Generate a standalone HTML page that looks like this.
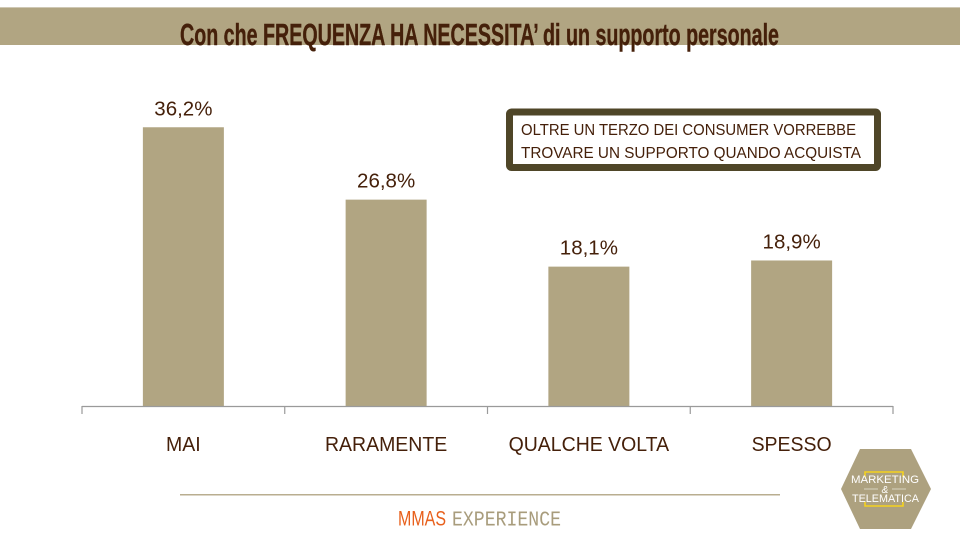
<!DOCTYPE html>
<html lang="it">
<head>
<meta charset="utf-8">
<title>Con che FREQUENZA HA NECESSITA' di un supporto personale</title>
<style>
html,body{margin:0;padding:0;background:#fff;}
body{width:960px;height:540px;overflow:hidden;}
svg{display:block;font-family:"Liberation Sans",sans-serif;}
</style>
</head>
<body>
<svg id="slide" width="960" height="540" viewBox="0 0 960 540" xmlns="http://www.w3.org/2000/svg">
  <rect x="0" y="7" width="960" height="38" fill="#b1a582"/>
  <rect x="0" y="7" width="960" height="1" fill="#cfc8b4"/>
  <text x="180" y="45" textLength="599" lengthAdjust="spacingAndGlyphs" font-size="30.500" font-weight="700" fill="#45200a" stroke="#45200a" stroke-width="0.400">Con che FREQUENZA HA NECESSITA’ di un supporto personale</text>

  <g id="chart"></g>

  <g>
    <rect x="509.500" y="112" width="368" height="55.500" rx="2" fill="#fff" stroke="#4f4628" stroke-width="7"/>
    <text x="521" y="135" textLength="335" lengthAdjust="spacingAndGlyphs" font-size="15.500" fill="#45200a">OLTRE UN TERZO DEI CONSUMER VORREBBE</text>
    <text x="521" y="158" textLength="340" lengthAdjust="spacingAndGlyphs" font-size="15.500" fill="#45200a">TROVARE UN SUPPORTO QUANDO ACQUISTA</text>
  </g>

  <rect x="180" y="494" width="600" height="1.500" fill="#b9ae90"/>
  <g>
    <text x="398" y="525.500" textLength="48" lengthAdjust="spacingAndGlyphs" font-size="21" fill="#e8601c">MMAS</text>
    <text x="452" y="525.500" textLength="109" lengthAdjust="spacingAndGlyphs" font-size="21" style="font-family:'Liberation Mono',monospace" fill="#a89c7c">EXPERIENCE</text>
  </g>

  <g>
    <polygon points="860,449 911,449 931,489 911,529 860,529 841,489" fill="#ada17f"/>
    <path d="M865,477 V472 H903 V477" fill="none" stroke="#f5d21f" stroke-width="1.600"/>
    <path d="M865,502 V506 H903 V502" fill="none" stroke="#f5d21f" stroke-width="1.600"/>
    <text x="851" y="483" textLength="68" lengthAdjust="spacingAndGlyphs" font-size="11" fill="#fff">MARKETING</text>
    <line x1="864" x2="878" y1="489" y2="489" stroke="#d8d2bf" stroke-width="1"/>
    <text x="885" y="493" text-anchor="middle" font-size="10" font-style="italic" fill="#fff">&amp;</text>
    <line x1="892" x2="906" y1="489" y2="489" stroke="#d8d2bf" stroke-width="1"/>
    <text x="852" y="502" textLength="67" lengthAdjust="spacingAndGlyphs" font-size="11" fill="#fff">TELEMATICA</text>
  </g>
</svg>
<script>
const categories = ["MAI", "RARAMENTE", "QUALCHE VOLTA", "SPESSO"];
const values = [36.2, 26.8, 18.1, 18.9];

const NS = "http://www.w3.org/2000/svg";
const chart = document.getElementById("chart");
const plotLeft = 82, plotRight = 893, baseY = 406, pxPerUnit = 7.7, barWidth = 81, categoryFit = 0.95;
const band = (plotRight - plotLeft) / categories.length;
const xCenter = i => plotLeft + band * (i + 0.5);
const yScale = v => baseY - v * pxPerUnit;
const fmt = v => v.toFixed(1).replace(".", ",") + "%";

function make(tag, attrs, text) {
  const el = document.createElementNS(NS, tag);
  for (const k in attrs) el.setAttribute(k, attrs[k]);
  if (text !== undefined) el.textContent = text;
  chart.appendChild(el);
  return el;
}

values.forEach((v, i) => {
  const bar = make("rect", {x: xCenter(i) - barWidth / 2, y: yScale(v), width: barWidth, height: baseY - yScale(v), fill: "#b1a582"});
  
  
  const label = make("text", {x: xCenter(i), y: yScale(v) - 12, "text-anchor": "middle", "font-size": 20.5, fill: "#45200a"}, fmt(v));
  
  
  const cat = make("text", {x: xCenter(i), y: 451, "text-anchor": "middle", "font-size": 20.5, fill: "#45200a"}, categories[i]);
  
  
  cat.setAttribute("textLength", cat.getComputedTextLength() * categoryFit);
  cat.setAttribute("lengthAdjust", "spacingAndGlyphs");
});

const axis = make("line", {x1: plotLeft, x2: plotRight, y1: baseY + 0.5, y2: baseY + 0.5, stroke: "#9a9a9a", "stroke-width": 1.2});


for (let i = 0; i <= categories.length; i++) {
  const tx = plotLeft + band * i;
  const tick = make("line", {x1: tx, x2: tx, y1: baseY, y2: baseY + 8, stroke: "#9a9a9a", "stroke-width": 1.2});
  
  
}
</script>
</body>
</html>
